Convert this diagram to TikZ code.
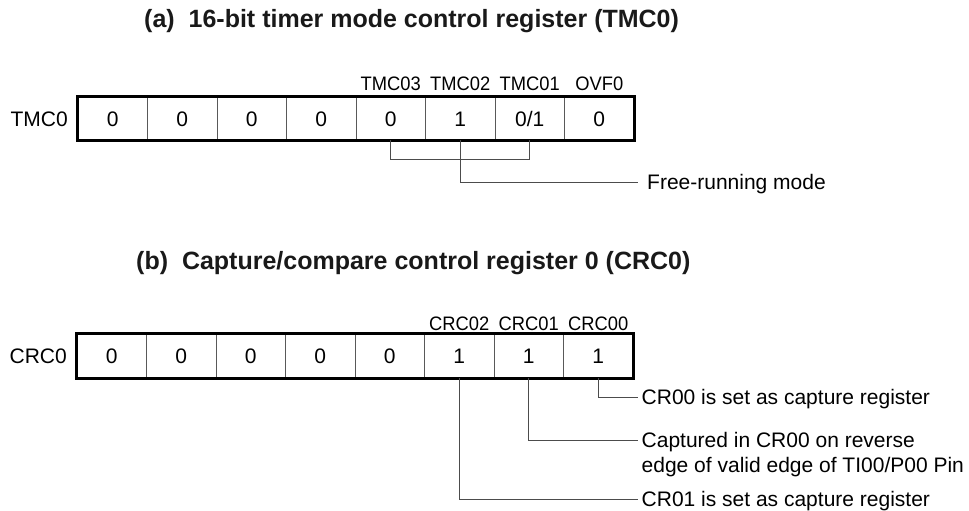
\documentclass[tikz,border=0pt]{standalone}
\usepackage{fontspec}
\setmainfont{Liberation Sans}
\begin{document}
\begin{tikzpicture}[x=1pt,y=-1pt,
  cell/.style={draw=black!65, line width=0.8pt, minimum width=69.5pt,
    minimum height=43pt, inner sep=0pt, text height=15pt, text depth=0pt,
    font=\fontsize{21}{25}\selectfont},
  outer/.style={draw=black, line width=2.6pt},
  lead/.style={draw=black!70, line width=1pt},
  lbl/.style={font=\fontsize{21}{25}\selectfont, text height=15pt,
    text depth=0pt, inner ysep=0pt, inner xsep=3.5pt, anchor=west},
  bitlbl/.style={font=\fontsize{19.5}{22}\selectfont, inner sep=0pt, anchor=base, xscale=0.94},
  reglbl/.style={font=\fontsize{21}{25}\selectfont, inner sep=0pt, anchor=base east},
  title/.style={font=\fontsize{25}{29}\selectfont\bfseries, inner sep=0pt,
    anchor=base west, text=black!90}]
\useasboundingbox (0,0) rectangle (969,511);

% ---------- (a) TMC0 ----------
\node[title] (ta) at (144,28) {(a)\ \ 16-bit timer mode control register (TMC0)};
\foreach \v [count=\i] in {0,0,0,0,0,1,{0/1},0}
  \node[cell] (t\i) at ({78+69.5*(\i-0.5)},118.5) {\v};
\draw[outer] (t1.north west) rectangle (t8.south east);
\node[reglbl] (tname) at (68,126) {TMC0};
\node[bitlbl] (b3) at (t5 |- 0,90) {TMC03};
\node[bitlbl] (b2) at (t6 |- 0,90) {TMC02};
\node[bitlbl] (b1) at (t7 |- 0,90) {TMC01};
\node[bitlbl] (bo) at (t8 |- 0,90) {OVF0};
\node[lbl, inner xsep=9pt] (fr) at (638,182) {Free-running mode};
\draw[lead] (t5.south) -- ++(0,19) -| (t7.south);
\draw[lead] (t6.south) |- (fr.west);

% ---------- (b) CRC0 ----------
\node[title] (tb) at (136,269) {(b)\ \ Capture/compare control register 0 (CRC0)};
\foreach \v [count=\i] in {0,0,0,0,0,1,1,1}
  \node[cell, minimum height=44pt] (c\i) at ({77+69.5*(\i-0.5)},356) {\v};
\draw[outer] (c1.north west) rectangle (c8.south east);
\node[reglbl] (cname) at (67,363.5) {CRC0};
\node[bitlbl] (d2) at (c6 |- 0,330) {CRC02};
\node[bitlbl] (d1) at (c7 |- 0,330) {CRC01};
\node[bitlbl] (d0) at (c8 |- 0,330) {CRC00};
\node[lbl] (cr00) at (638,397) {CR00 is set as capture register};
\node[lbl] (capA) at (638,440) {Captured in CR00 on reverse};
\node[lbl] (capB) at (638,465) {edge of valid edge of TI00/P00 Pin};
\node[lbl] (cr01) at (638,499) {CR01 is set as capture register};
\draw[lead] (c8.south) |- (cr00.west);
\draw[lead] (c7.south) |- (capA.west);
\draw[lead] (c6.south) |- (cr01.west);
\end{tikzpicture}
\end{document}
